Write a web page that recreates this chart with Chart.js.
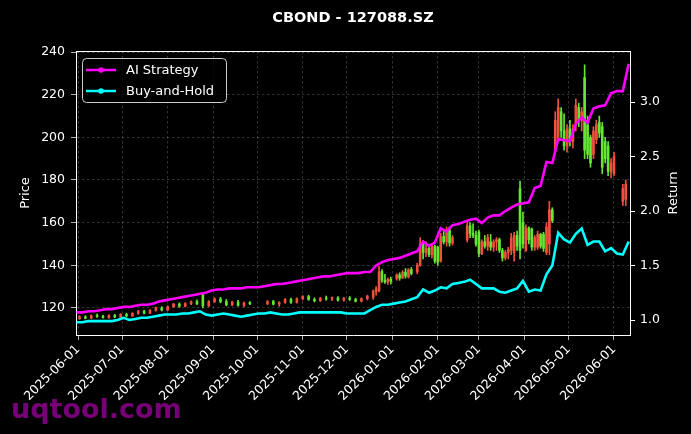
<!DOCTYPE html>
<html>
<head>
<meta charset="utf-8">
<script src="https://cdn.jsdelivr.net/npm/chart.js@4.4.1/dist/chart.umd.min.js"></script>
<style>
  body { margin: 0; background: #000; }
  canvas { display: block; }
</style>
</head>
<body>
<canvas id="myChart" width="691" height="434"></canvas>
<script>
// days counted from 2025-06-01
const lineDays = [
  -1, 3, 7, 11, 15, 19, 23, 27, 31, 35,
  39, 43, 47, 51, 55, 59, 63, 67, 71, 75,
  79, 83, 87, 91, 95, 99, 103, 107, 111, 115,
  119, 123, 127, 131, 135, 139, 143, 147, 151, 155,
  159, 163, 167, 171, 175, 179, 183, 187, 191, 195,
  199, 203, 207, 211, 215, 219, 223, 227, 231, 235,
  239, 243, 247, 251, 255, 259, 263, 267, 271, 275,
  279, 283, 287, 291, 295, 299, 303, 307, 311, 315,
  319, 323, 327, 331, 335, 339, 343, 347, 351, 355,
  359, 363, 367, 371, 375
];
const aiReturn = [
  1.07, 1.07, 1.08, 1.08, 1.09, 1.10, 1.10, 1.11, 1.12, 1.12,
  1.13, 1.14, 1.14, 1.15, 1.17, 1.18, 1.19, 1.20, 1.21, 1.22,
  1.23, 1.24, 1.25, 1.27, 1.28, 1.28, 1.29, 1.29, 1.29, 1.30,
  1.30, 1.30, 1.31, 1.32, 1.33, 1.33, 1.34, 1.35, 1.36, 1.37,
  1.38, 1.39, 1.40, 1.40, 1.41, 1.42, 1.43, 1.43, 1.43, 1.44,
  1.44, 1.50, 1.53, 1.55, 1.56, 1.57, 1.59, 1.61, 1.63, 1.72,
  1.68, 1.71, 1.84, 1.81, 1.87, 1.88, 1.90, 1.92, 1.93, 1.89,
  1.94, 1.96, 1.96, 2.00, 2.03, 2.06, 2.07, 2.08, 2.21, 2.23,
  2.45, 2.44, 2.66, 2.65, 2.64, 2.80, 2.86, 2.81, 2.94, 2.96,
  2.97, 3.08, 3.10, 3.10, 3.35
];
const bhReturn = [
  0.98, 0.98, 0.99, 0.99, 0.99, 0.99, 0.99, 1.00, 1.02, 1.00,
  1.01, 1.02, 1.02, 1.03, 1.04, 1.05, 1.05, 1.05, 1.06, 1.06,
  1.07, 1.08, 1.05, 1.04, 1.05, 1.06, 1.05, 1.04, 1.03, 1.04,
  1.05, 1.06, 1.06, 1.07, 1.06, 1.05, 1.05, 1.06, 1.07, 1.07,
  1.07, 1.07, 1.07, 1.07, 1.07, 1.07, 1.06, 1.06, 1.06, 1.06,
  1.09, 1.12, 1.14, 1.14, 1.15, 1.16, 1.17, 1.19, 1.21, 1.28,
  1.25, 1.27, 1.30, 1.29, 1.33, 1.34, 1.35, 1.37, 1.33, 1.29,
  1.29, 1.29, 1.26, 1.25, 1.27, 1.29, 1.36, 1.26, 1.28, 1.27,
  1.42, 1.50, 1.80, 1.74, 1.71, 1.79, 1.84, 1.69, 1.72, 1.72,
  1.63, 1.66, 1.61, 1.60, 1.72
];

const candleDays = [
  1, 5, 9, 13, 17, 21, 25, 29, 33, 37,
  41, 45, 49, 53, 57, 61, 65, 69, 73, 77,
  81, 85, 89, 93, 97, 101, 105, 109, 113, 117,
  121, 125, 129, 133, 137, 141, 145, 149, 153, 157,
  161, 165, 169, 173, 177, 181, 185, 189, 193, 197,
  201, 203, 205, 207, 209, 211, 213, 215, 217, 219,
  221, 223, 225, 227, 229, 231, 233, 235, 237, 239,
  241, 243, 245, 247, 249, 251, 253, 255, 257, 259,
  261, 263, 265, 267, 269, 271, 273, 275, 277, 279,
  281, 283, 285, 287, 289, 291, 293, 295, 297, 299,
  301, 303, 305, 307, 309, 311, 313, 315, 317, 319,
  321, 323, 325, 327, 329, 331, 333, 335, 337, 339,
  341, 343, 345, 347, 349, 351, 353, 355, 357, 359,
  361, 363, 365, 367, 369, 371, 373
];
const openPx = [
  115.0, 115.8, 115.3, 116.4, 116.0, 115.5, 116.5, 115.8, 117.0, 116.3,
  117.5, 118.4, 117.6, 118.9, 120.0, 119.0, 120.6, 121.8, 120.8, 122.1,
  123.0, 126.5, 121.0, 123.0, 124.2, 123.0, 121.5, 122.8, 121.2, 122.4,
  null, null, 122.0, 123.0, 121.8, 122.6, 124.0, 122.6, 124.4, 125.4,
  124.0, 123.4, 124.6, 124.2, 124.8, 123.6, 124.6, 124.0, 123.2, 124.4,
  125, 127.8, 128, 137, 133, 132.2, 133.5, null, 133.8, 135.5,
  134, 136.8, 134.5, 138, null, 137, 140, 150, 146, 148,
  145, 149, 148.5, 142, 153.5, 151, 156.5, 150.5, null, null,
  null, null, 152, 158.5, 155, 154, 155.5, 145.5, 151, 149,
  151, 148.5, 151, 152, 147, 143.5, 146, 147, 146, 154,
  176, 160, 147, 157.5, 157, 148.5, 148.5, 154.5, 154.5, 146,
  150, 166, 195, 200, 212, 203, 196, 204, 198, 206,
  214, 208, 228, 206, 200, 192, 199, 207, 205, 198,
  196, 184, 183, null, null, 170, 171
];
const highPx = [
  116.5, 116.4, 116.8, 117.3, 116.6, 116.9, 117.0, 117.4, 117.6, 117.8,
  118.9, 119.0, 119.3, 120.4, 120.6, 121.0, 122.2, 122.4, 122.5, 123.4,
  123.8, 127.2, 123.5, 124.8, 125.0, 124.0, 123.2, 123.6, 122.8, 123.0,
  null, null, 123.5, 123.6, 123.0, 124.4, 124.6, 124.8, 125.8, 126.0,
  124.8, 125.0, 125.6, 125.2, 125.4, 125.0, 125.4, 124.6, 124.8, 126.0,
  128.5, 130, 139.5, 138, 135.8, 134, 134.5, null, 136, 136.5,
  137.5, 138.5, 138.5, 139, null, 141, 153, 151.5, 151, 150,
  150, 149.5, 149, 155, 157, 158, 158, 154, null, null,
  null, null, 160, 160, 159.5, 156, 156.5, 152, 154, 154.5,
  154.5, 152, 153, 152.8, 148, 147, 148.5, 155, 155.5, 156,
  179.5, 165, 159, 158, 157.5, 154, 156, 155, 155.5, 160,
  170, 167, 212, 218, 214, 211, 206, 208, 206, 218,
  216, 214, 234, 210, 201, 205, 208, 210, 207, 200,
  198, 190, 193, null, null, 178, 180
];
const lowPx = [
  114.6, 114.9, 115.0, 115.6, 115.2, 115.1, 115.4, 115.5, 115.9, 116.0,
  117.0, 117.2, 117.3, 118.5, 118.6, 118.8, 120.2, 120.3, 120.5, 121.6,
  121.5, 120.0, 120.6, 122.6, 122.4, 121.0, 121.0, 120.8, 120.5, 121.6,
  null, null, 121.5, 121.4, 120.8, 122.2, 122.2, 122.3, 123.8, 123.6,
  122.8, 123.0, 123.6, 123.4, 123.2, 123.2, 123.5, 122.8, 122.8, 123.8,
  124, 126, 127.5, 132, 131.5, 131, 131.2, null, 133, 133,
  133.8, 134, 134, 135.5, null, 136, 139.5, 143, 144, 144,
  143.5, 141, 140, 141.5, 150, 149, 149, 149.5, null, null,
  null, null, 151, 153, 153, 149, 144, 145, 148, 147,
  147, 146.5, 147, 146, 142, 142.5, 143, 145, 142, 147,
  143, 148, 146.5, 150, 147, 147, 147.5, 148, 146.5, 145,
  145, 160, 193, 198, 200, 194, 193, 196, 195, 203,
  205, 203, 190, 190, 186, 190, 197, 200, 183, 188,
  182, 181, 182, null, null, 168, 168
];
const closePx = [
  115.8, 115.2, 116.4, 116.0, 115.5, 116.5, 115.8, 117.0, 116.3, 117.5,
  118.4, 117.6, 118.9, 120.0, 119.0, 120.6, 121.8, 120.8, 122.1, 123.0,
  122.0, 121.0, 123.0, 124.2, 123.0, 121.5, 122.8, 121.2, 122.4, 122.0,
  null, null, 123.0, 121.8, 122.6, 124.0, 122.6, 124.4, 125.4, 124.0,
  123.4, 124.6, 124.2, 124.8, 123.6, 124.6, 124.0, 123.2, 124.4, 125.6,
  127.8, 129, 137, 133, 132.2, 133.5, 132.5, null, 135.5, 134,
  136.8, 135, 138, 136.2, null, 140, 150, 146, 148, 145,
  149, 142, 141.5, 153.5, 151, 156.5, 150.5, 153, null, null,
  null, null, 158.5, 155, 154, 150, 145.5, 151, 149, 153,
  148.5, 151, 152, 147, 143.5, 146, 147.5, 153, 154, 149,
  147, 150, 157.5, 152, 148.5, 153, 154.5, 149, 148, 158,
  166, 161, 208, 214, 203, 196, 204, 198, 204, 215,
  208, 212, 194, 192, 188, 203, 206, 202, 186, 190,
  184, 188, 191, null, null, 176, 178
];

const priceTicks = [120, 140, 160, 180, 200, 220, 240];
const returnTicks = [1.0, 1.5, 2.0, 2.5, 3.0];
const monthTicks = ['2025-06-01', '2025-07-01', '2025-08-01', '2025-09-01', '2025-10-01', '2025-11-01',
  '2025-12-01', '2026-01-01', '2026-02-01', '2026-03-01', '2026-04-01', '2026-05-01', '2026-06-01'];

const DAY0 = Date.UTC(2025, 5, 1);
function toDay(s) {
  var p = s.split('-');
  return (Date.UTC(+p[0], +p[1] - 1, +p[2]) - DAY0) / 864e5;
}
function toDate(d) {
  return new Date(DAY0 + Math.round(d) * 864e5).toISOString().slice(0, 10);
}

// candles -> floating bars
var wicks = [], bodies = [], colors = [];
candleDays.forEach((d, i) => {
  if (openPx[i] == null) return;
  wicks.push({x: d, y: [lowPx[i], highPx[i]]});
  bodies.push({x: d, y: [openPx[i], closePx[i]]});
  colors.push(closePx[i] >= openPx[i] ? '#f0503c' : '#64e632');
});

const FONT = "'DejaVu Sans', sans-serif";
const gridCol = 'rgba(255,255,255,0.28)';

const deco = {
  id: 'deco',
  beforeDraw(c) {
    const g = c.ctx;
    g.save();
    g.fillStyle = '#000';
    g.fillRect(0, 0, c.width, c.height);
    g.restore();
  },
  afterDraw(c) {
    const g = c.ctx, a = c.chartArea;
    g.save();
    // top spine
    g.strokeStyle = '#fff';
    g.lineWidth = 1;
    g.beginPath();
    g.moveTo(a.left, a.top + 0.5);
    g.lineTo(a.right, a.top + 0.5);
    g.stroke();

    // title
    g.fillStyle = '#fff';
    g.textAlign = 'center';
    g.textBaseline = 'middle';
    g.font = 'bold 14.5px ' + FONT;
    g.fillText('CBOND - 127088.SZ', (a.left + a.right) / 2, 18);

    // axis titles
    g.font = '13px ' + FONT;
    g.save();
    g.translate(26, (a.top + a.bottom) / 2);
    g.rotate(-Math.PI / 2);
    g.fillText('Price', 0, 0);
    g.restore();
    g.save();
    g.translate(674, (a.top + a.bottom) / 2);
    g.rotate(-Math.PI / 2);
    g.fillText('Return', 0, 0);
    g.restore();

    // legend
    var lx = 82, ly = 58, lw = 144, lh = 44;
    g.fillStyle = 'rgba(0,0,0,0.8)';
    g.strokeStyle = '#cccccc';
    g.lineWidth = 1;
    g.beginPath();
    g.roundRect(lx + 0.5, ly + 0.5, lw, lh, 4);
    g.fill();
    g.stroke();
    var items = [['AI Strategy', '#ff00ff'], ['Buy-and-Hold', '#00ffff']];
    items.forEach((it, k) => {
      var yy = ly + 12 + k * 21;
      g.strokeStyle = it[1];
      g.lineWidth = 2.5;
      g.beginPath();
      g.moveTo(lx + 4, yy);
      g.lineTo(lx + 34, yy);
      g.stroke();
      g.fillStyle = it[1];
      g.beginPath();
      g.arc(lx + 19, yy, 2.8, 0, Math.PI * 2);
      g.fill();
      g.fillStyle = '#fff';
      g.textAlign = 'left';
      g.font = '13px ' + FONT;
      g.fillText(it[0], lx + 44, yy + 1);
    });

    // watermark
    g.fillStyle = 'rgba(140,0,140,0.85)';
    g.font = 'bold 27px ' + FONT;
    g.textAlign = 'left';
    g.textBaseline = 'alphabetic';
    g.fillText('uqtool.com', 11, 418);
    g.restore();
  }
};

const ctx = document.getElementById('myChart');
new Chart(ctx, {
  type: 'bar',
  data: {
    datasets: [
      {
        type: 'line', label: 'AI Strategy', yAxisID: 'y1', order: 0,
        data: lineDays.map((d, i) => ({x: d, y: aiReturn[i]})),
        borderColor: '#ff00ff', borderWidth: 2.6, pointRadius: 0, tension: 0
      },
      {
        type: 'line', label: 'Buy-and-Hold', yAxisID: 'y1', order: 1,
        data: lineDays.map((d, i) => ({x: d, y: bhReturn[i]})),
        borderColor: '#00ffff', borderWidth: 2.6, pointRadius: 0, tension: 0
      },
      {
        label: 'body', yAxisID: 'y', order: 2, data: bodies,
        backgroundColor: colors, barThickness: 2, minBarLength: 1, grouped: false
      },
      {
        label: 'wick', yAxisID: 'y', order: 3, data: wicks,
        backgroundColor: colors, barThickness: 1, grouped: false
      }
    ]
  },
  options: {
    responsive: false,
    animation: false,
    devicePixelRatio: 1,
    layout: {padding: {top: 51, left: 0, right: 0, bottom: 0}},
    plugins: {legend: {display: false}, tooltip: {enabled: false}, title: {display: false}},
    scales: {
      x: {
        type: 'linear', min: -1.4, max: 375.9, offset: false,
        grid: {color: gridCol, lineWidth: 0.7, tickColor: '#fff', tickLength: 5, offset: false},
        border: {color: '#fff', width: 1, dash: [2.5, 2.5]},
        ticks: {
          color: '#fff', font: {family: FONT, size: 12.5}, autoSkip: false,
          maxRotation: 45, minRotation: 45, padding: 2,
          callback: v => toDate(v)
        },
        afterBuildTicks: s => { s.ticks = monthTicks.map(m => ({value: toDay(m)})); },
        afterFit: s => { s.height = 99; }
      },
      y: {
        position: 'left', min: 107.34, max: 240.47,
        grid: {color: gridCol, lineWidth: 0.7, tickColor: '#fff', tickLength: 5},
        border: {color: '#fff', width: 1, dash: [2.5, 2.5]},
        ticks: {color: '#fff', font: {family: FONT, size: 12.5}, padding: 6},
        afterBuildTicks: s => { s.ticks = priceTicks.map(v => ({value: v})); },
        afterFit: s => { s.width = 76; }
      },
      y1: {
        position: 'right', min: 0.8624, max: 3.468,
        grid: {drawOnChartArea: false, tickColor: '#fff', tickLength: 5},
        border: {color: '#fff', width: 1},
        ticks: {color: '#fff', font: {family: FONT, size: 12.5}, padding: 5, callback: v => v.toFixed(1)},
        afterBuildTicks: s => { s.ticks = returnTicks.map(v => ({value: v})); },
        afterFit: s => { s.width = 61; }
      }
    }
  },
  plugins: [deco]
});
</script>
</body>
</html>
